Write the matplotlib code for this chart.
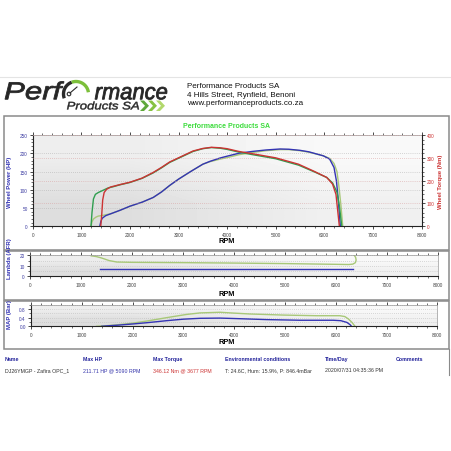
import matplotlib.pyplot as plt
import numpy as np
from matplotlib.patches import Rectangle, PathPatch, Polygon, Circle
from matplotlib.textpath import TextPath
from matplotlib.font_manager import FontProperties
from matplotlib.transforms import Affine2D
from matplotlib.ticker import MultipleLocator

plt.rcParams['font.family'] = ['Liberation Sans', 'DejaVu Sans']

# run 1: power (blue, HP) and torque (red, Nm)
rpm_hp1 = [1380, 1400, 1430, 1500, 1600, 1800, 2000, 2250, 2480, 2650, 2820, 3000,
           3250, 3500, 3650, 3856, 4000, 4240, 4520, 4800, 5090, 5270, 5500, 5680,
           5980, 6110, 6200, 6250, 6290, 6330]
hp1 = [0, 12, 22, 29, 34, 44, 55, 66, 79, 94, 112, 129,
       150, 170, 178, 187, 192, 200, 205, 209, 211.7, 211, 208, 204,
       193, 184, 161, 124, 69, 0]
rpm_tq1 = [1400, 1420, 1440, 1470, 1520, 1600, 1800, 2000, 2250, 2480, 2650, 2820,
           3000, 3300, 3500, 3677, 3856, 4000, 4240, 4520, 5000, 5470, 5800, 6050,
           6170, 6240, 6275, 6310]
tq1 = [0, 50, 115, 148, 162, 172, 183, 193, 211, 236, 258, 282,
       300, 330, 341, 346.1, 344, 340, 328, 318, 300, 272, 240, 214,
       185, 140, 70, 0]

# run 2 (green)
rpm_hp2 = [1200, 1220, 1250, 1300, 1350, 1450, 1550, 1600, 1800, 2000, 2250, 2480,
           2650, 2820, 3000, 3250, 3500, 3650, 3856, 4000, 4240, 4520, 4800, 5090,
           5270, 5500, 5680, 5980, 6110, 6200, 6260, 6300, 6340, 6380]
hp2 = [0, 12, 20, 25, 28, 30, 33, 34, 44, 55, 66, 79,
       94, 112, 129, 150, 170, 177, 184, 188, 196, 202, 207, 210,
       210, 207, 203, 193, 186, 172, 150, 110, 60, 0]
rpm_tq2 = [1200, 1220, 1250, 1290, 1350, 1450, 1550, 1650, 1800, 2000, 2250, 2480,
           2650, 2820, 3000, 3300, 3500, 3677, 3856, 4000, 4240, 4520, 5000, 5470,
           5800, 6050, 6170, 6260, 6310, 6360]
tq2 = [0, 60, 120, 140, 148, 158, 168, 173, 182, 192, 210, 234,
       256, 280, 298, 328, 340, 345, 342, 337, 325, 314, 296, 268,
       238, 214, 190, 150, 90, 0]

# lambda / AFR panel
rpm_afr2 = [1200, 1300, 1400, 1550, 1700, 2000, 3000, 4000, 5000, 6000, 6250, 6330,
            6380, 6395, 6385, 6360]
afr2 = [19.5, 18.8, 17.5, 15.0, 13.6, 13.3, 13.0, 12.6, 12.1, 11.4, 11.2, 11.6,
        13.0, 15.5, 18.0, 19.8]
rpm_afr1 = [1380, 2000, 3000, 4000, 5000, 6000, 6330]
afr1 = [7.3, 7.3, 7.3, 7.3, 7.3, 7.3, 7.3]

# MAP panel
rpm_map2 = [1290, 1500, 1700, 2015, 2300, 2670, 3065, 3330, 3720, 4000, 4310, 4970,
            5620, 6080, 6180, 6250, 6320, 6380]
map2 = [0, 0.03, 0.07, 0.15, 0.25, 0.40, 0.55, 0.62, 0.65, 0.61, 0.57, 0.52,
        0.49, 0.49, 0.45, 0.34, 0.18, 0]
rpm_map1 = [1390, 1500, 1700, 2015, 2300, 2670, 3000, 3330, 3720, 4000, 4640, 5300,
            5950, 6100, 6220, 6280, 6310]
map1 = [0, 0.02, 0.05, 0.11, 0.17, 0.26, 0.33, 0.37, 0.38, 0.36, 0.31, 0.28,
        0.28, 0.26, 0.18, 0.08, 0]

headers = ['Name', 'Max HP', 'Max Torque', 'Environmental conditions', 'Time/Day', 'Comments']
values = ['DJ26YMGP - Zafira OPC_1', '211.71 HP @ 5090 RPM', '346.12 Nm @ 3677 RPM',
          'T: 24.6C, Hum: 15.9%, P: 846.4mBar', '2020/07/31 04:35:36 PM', '']
value_colors = ['#333333', '#3333aa', '#cc3333', '#333333', '#333333', '#333333']
col_x = [5, 83, 153, 225, 325, 396]

BLUE = '#3434b4'
RED = '#cc3333'
GREEN = '#2f9e4f'
LGREEN = '#a8c878'
W = 452.0


def box(l, t, r, b):
    return [l / W, 1 - b / W, (r - l) / W, (b - t) / W]


def shade(ax, ymax):
    g = np.array([[0.87, 0.94], [0.93, 0.975]])
    ax.imshow(g, extent=[0, 8000, 0, ymax], origin='lower', cmap='gray', vmin=0, vmax=1,
              aspect='auto', interpolation='bilinear', zorder=0)
    ax.set_xlim(0, 8000)
    ax.set_ylim(0, ymax)


def style_x(ax):
    ax.xaxis.set_major_locator(MultipleLocator(1000))
    ax.xaxis.set_minor_locator(MultipleLocator(200))
    ax.tick_params(axis='x', which='both', top=True, labelsize=3.4, labelcolor='#444444',
                   pad=2)
    ax.tick_params(which='major', length=2.2, width=0.5)
    ax.tick_params(which='minor', length=1.2, width=0.4)
    for s in ['left', 'bottom']:
        ax.spines[s].set_color('#222222')
        ax.spines[s].set_linewidth(0.8)
    for s in ['top', 'right']:
        ax.spines[s].set_color('#999999')
        ax.spines[s].set_linewidth(0.5)


def fit_text(ax, s, x0, x1, ytop, ybase, color, thick=0.0):
    tp = TextPath((0, 0), s, size=10, prop=FontProperties(family='Liberation Sans', style='italic'))
    ext = tp.get_extents()
    tr = Affine2D().translate(-ext.x0, -ext.y0).scale((x1 - x0) / ext.width,
                                                      -(ybase - ytop) / ext.height).translate(x0, ybase)
    ax.add_patch(PathPatch(tr.transform_path(tp), fc=color, ec=color, lw=thick))


fig = plt.figure(figsize=(4.52, 4.52), dpi=100)

# overlay in pixel coordinates for logo, boxes and table
bg = fig.add_axes([0, 0, 1, 1])
bg.set_xlim(0, W)
bg.set_ylim(W, 0)
bg.axis('off')
bg.set_zorder(-1)

bg.plot([0, W], [78, 78], color='#e4e4e4', lw=0.8)
panels = [(4, 117, 449, 251), (4, 252, 449, 301), (4, 302, 449, 350)]
rects = []
for (l, t, r, b) in panels:
    rc = Rectangle((l, t), r - l, b - t, fc='white', ec='#8a8a8a', lw=1.1)
    bg.add_patch(rc)
    rects.append(rc)
bg.plot([449, 449], [350, 376], color='#8a8a8a', lw=0.8)

# logo
fit_text(bg, 'Perf', 5, 64, 82.5, 100.5, '#262626', thick=0.6)
fit_text(bg, 'rmance', 95, 167, 88, 100.5, '#262626', thick=0.6)
fit_text(bg, 'Products SA', 67, 139, 102.5, 110.5, '#262626', thick=0.3)
th = np.radians(np.linspace(160, 250, 30))
bg.plot(76 + 12.5 * np.cos(th), 95 + 12.5 * np.sin(th), color='#2a2a2a', lw=2.4,
        solid_capstyle='butt')
th = np.radians(np.linspace(250, 352, 30))
bg.plot(76 + 12.5 * np.cos(th), 95 + 12.5 * np.sin(th), color='#7cbf3a', lw=2.4,
        solid_capstyle='butt')
bg.add_patch(Circle((69, 95), 1.8, fc='white', ec='#2a2a2a', lw=0.8))
bg.plot([70, 77], [94, 88], color='#2a2a2a', lw=0.8)
for x, c in zip([140, 148, 156], ['#5fa83a', '#86c241', '#b2d86c']):
    bg.add_patch(Polygon([(x, 101.5), (x + 4, 101.5), (x + 9, 106.8), (x + 4, 112),
                          (x, 112), (x + 5, 106.8)], closed=True, fc=c, ec='none'))

for i, line in enumerate(['Performance Products SA', '4 Hills Street, Rynfield, Benoni',
                          'www.performanceproducts.co.za']):
    bg.text(187, 87 + i * 8.4, line, fontsize=5.8, color='#111111', va='center', ha='left')

bg.text(227, 126.5, 'Performance Products SA', fontsize=5, fontweight='bold',
        color='#3ddc3d', ha='center', va='center')

# main power / torque chart
ax = fig.add_axes(box(32.7, 136, 421.5, 227.3))
shade(ax, 250)
ax.plot(rpm_hp2, hp2, color=LGREEN, lw=1.0, zorder=2)
ax.plot(rpm_hp1, hp1, color=BLUE, lw=1.0, zorder=3)
ax.yaxis.set_major_locator(MultipleLocator(50))
ax.yaxis.set_minor_locator(MultipleLocator(10))
ax.tick_params(axis='y', labelsize=3.4, labelcolor='#3a3aa0', pad=1.5)
style_x(ax)
ax.grid(axis='y', which='major', linestyle=(0, (1, 2)), color='#b0b0b0', lw=0.5)

ax2 = ax.twinx()
ax2.set_ylim(0, 400)
ax2.plot(rpm_tq2, tq2, color=GREEN, lw=1.0)
ax2.plot(rpm_tq1, tq1, color=RED, lw=1.0)
ax2.yaxis.set_major_locator(MultipleLocator(100))
ax2.yaxis.set_minor_locator(MultipleLocator(20))
ax2.tick_params(axis='y', which='both', labelsize=3.4, labelcolor=RED, pad=1.5)
ax2.tick_params(which='major', length=2.2, width=0.5)
ax2.tick_params(which='minor', length=1.2, width=0.4)
ax2.spines['right'].set_color('#222222')
ax2.spines['right'].set_linewidth(0.8)
for s in ['left', 'top', 'bottom']:
    ax2.spines[s].set_visible(False)
ax2.grid(axis='y', which='major', linestyle=(0, (1, 2)), color='#d9a0a0', lw=0.5)

bg.text(227, 242, 'RPM', fontsize=5.3, fontweight='bold', ha='center', va='center')
bg.text(10, 182, 'Wheel Power (HP)', fontsize=4.3, fontweight='bold', color=BLUE,
        rotation=90, ha='center', va='center')
bg.text(441, 182, 'Wheel Torque (Nm)', fontsize=4.3, fontweight='bold', color=RED,
        rotation=90, ha='center', va='center')

# lambda panel
axl = fig.add_axes(box(30, 256.3, 438, 277.3))
shade(axl, 20)
axl.plot(rpm_afr2, afr2, color=LGREEN, lw=1.0)
axl.plot(rpm_afr1, afr1, color=BLUE, lw=1.0)
axl.yaxis.set_major_locator(MultipleLocator(10))
axl.yaxis.set_minor_locator(MultipleLocator(5))
axl.tick_params(axis='y', labelsize=3.4, labelcolor='#3a3aa0', pad=1.5)
style_x(axl)
axl.grid(axis='y', which='both', linestyle=(0, (1, 2)), color='#b8b8b8', lw=0.5)
bg.text(227, 295, 'RPM', fontsize=5.3, fontweight='bold', ha='center', va='center')
t = bg.text(10, 279, 'Lambda (AFR)', fontsize=4.3, fontweight='bold', color=BLUE,
            rotation=90, ha='center', va='bottom')
t.set_clip_path(rects[1])

# MAP panel
axm = fig.add_axes(box(31, 305.7, 437.3, 327.3))
shade(axm, 1.0)
axm.plot(rpm_map2, map2, color=LGREEN, lw=1.0)
axm.plot(rpm_map1, map1, color=BLUE, lw=1.0)
axm.yaxis.set_major_locator(MultipleLocator(0.4))
axm.yaxis.set_minor_locator(MultipleLocator(0.2))
axm.yaxis.set_major_formatter(plt.FormatStrFormatter('%.1f'))
axm.tick_params(axis='y', labelsize=3.4, labelcolor='#3a3aa0', pad=1.5)
style_x(axm)
axm.grid(axis='y', which='both', linestyle=(0, (1, 2)), color='#b8b8b8', lw=0.5)
bg.text(227, 343, 'RPM', fontsize=5.3, fontweight='bold', ha='center', va='center')
t = bg.text(10, 329, 'MAP (Bar)', fontsize=4.3, fontweight='bold', color=BLUE,
            rotation=90, ha='center', va='bottom')
t.set_clip_path(rects[2])

# summary table
for x, h, v, c in zip(col_x, headers, values, value_colors):
    bg.text(x, 360, h, fontsize=3.8, fontweight='bold', color='#22229a', va='center')
    bg.text(x, 371, v, fontsize=3.8, color=c, va='center')

fig.savefig('out.png', dpi=100, facecolor='white')
